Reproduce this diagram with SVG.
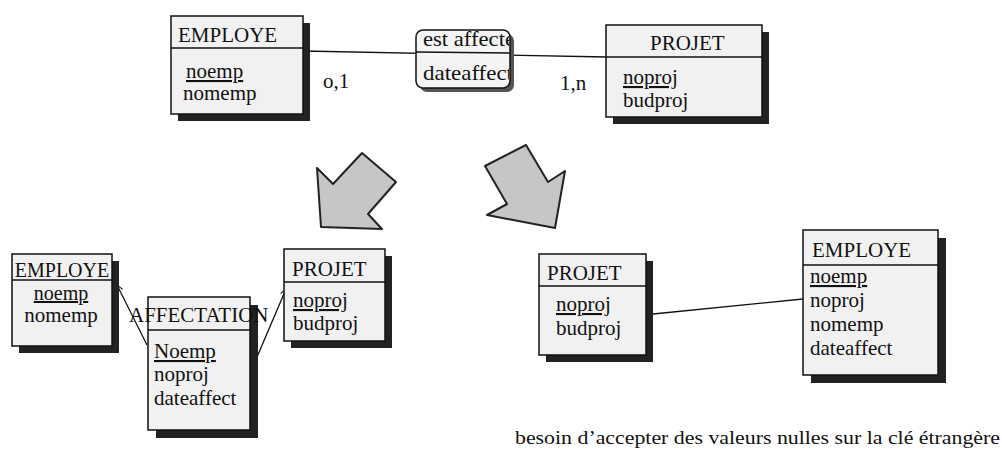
<svg xmlns="http://www.w3.org/2000/svg" width="1002" height="459" viewBox="0 0 1002 459">
<defs>
<style>
text{font-family:"Liberation Serif","Times New Roman",serif;font-size:21px;fill:#111}
.box{fill:#f1f1f1;stroke:#111;stroke-width:1.5}
.sh{fill:#222}
.div{stroke:#111;stroke-width:1.5}
.u{text-decoration:underline}
.con{stroke:#111;stroke-width:1.3;fill:none}
.arrow{fill:#c6c6c6;stroke:#222;stroke-width:2;stroke-linejoin:round}
</style>
<marker id="oa" viewBox="0 0 10 10" refX="9" refY="5" markerWidth="8" markerHeight="8" orient="auto" markerUnits="userSpaceOnUse">
<path d="M1,1 L9,5 L1,9" fill="none" stroke="#111" stroke-width="1.3"/>
</marker>
<clipPath id="relclip"><rect x="410" y="25" width="99" height="70"/></clipPath>
</defs>
<rect width="1002" height="459" fill="#fff"/>

<g id="connectors">
<line class="con" x1="303" y1="51" x2="607" y2="57"/>
<line class="con" x1="147" y1="345" x2="117" y2="285" marker-end="url(#oa)"/>
<line class="con" x1="257" y1="357" x2="286" y2="289" marker-end="url(#oa)"/>
<line class="con" x1="653" y1="314" x2="803" y2="299"/>
</g>

<g id="employe-top">
<rect class="sh" x="178" y="23" width="132" height="98"/>
<rect class="box" x="171" y="16" width="132" height="98"/>
<line class="div" x1="171" y1="48" x2="303" y2="48"/>
<text x="178" y="42">EMPLOYE</text>
<text class="u" x="186" y="78">noemp</text>
<text x="183" y="100">nomemp</text>
</g>

<g id="est-affecte">
<rect x="420" y="34" width="94" height="58" rx="7" fill="#555"/>
<rect x="416" y="30" width="94" height="58" rx="7" fill="#f4f4f4" stroke="#111" stroke-width="1.5"/>
<line class="div" x1="416" y1="52" x2="510" y2="53"/>
<g clip-path="url(#relclip)">
<text x="423" y="46" textLength="92" lengthAdjust="spacingAndGlyphs">est affecté</text>
<text x="423" y="80" textLength="90" lengthAdjust="spacingAndGlyphs">dateaffect</text>
</g>
</g>

<text id="card-1" x="323" y="88">o,1</text>
<text id="card-2" x="560" y="90">1,n</text>

<g id="projet-top">
<rect class="sh" x="613" y="32" width="156" height="92"/>
<rect class="box" x="606" y="25" width="156" height="92"/>
<line class="div" x1="606" y1="57" x2="762" y2="57"/>
<text x="650" y="50">PROJET</text>
<text class="u" x="623" y="84">noproj</text>
<text x="623" y="107">budproj</text>
</g>

<g id="arrow-left">
<polygon class="arrow" points="317,168 333,184 362,153 396,182 368,214 382,229 321,227"/>
</g>
<g id="arrow-right">
<polygon class="arrow" points="485,166 526,145 548,182 565,171 555,228 487,215 507,204"/>
</g>

<g id="employe-bl">
<rect class="sh" x="19" y="261" width="100" height="92"/>
<rect class="box" x="12" y="254" width="100" height="92"/>
<line class="div" x1="12" y1="280" x2="112" y2="280"/>
<text x="62" y="277" text-anchor="middle" style="font-size:20px">EMPLOYE</text>
<text class="u" x="61" y="300" text-anchor="middle" style="font-size:20px">noemp</text>
<text x="61" y="322" text-anchor="middle">nomemp</text>
</g>

<g id="affectation">
<rect class="sh" x="156" y="305" width="102" height="133"/>
<rect class="box" x="148" y="297" width="102" height="133"/>
<line class="div" x1="148" y1="330" x2="250" y2="330"/>
<text x="129" y="322">AFFECTATION</text>
<text class="u" x="154" y="358">Noemp</text>
<text x="154" y="381">noproj</text>
<text x="154" y="405">dateaffect</text>
</g>

<g id="projet-bl">
<rect class="sh" x="291" y="256" width="101" height="92"/>
<rect class="box" x="284" y="249" width="101" height="92"/>
<line class="div" x1="284" y1="282" x2="385" y2="282"/>
<text x="292" y="276">PROJET</text>
<text class="u" x="293" y="307">noproj</text>
<text x="293" y="330">budproj</text>
</g>

<g id="projet-br">
<rect class="sh" x="546" y="261" width="107" height="101"/>
<rect class="box" x="539" y="254" width="107" height="101"/>
<line class="div" x1="539" y1="286" x2="646" y2="286"/>
<text x="547" y="280">PROJET</text>
<text class="u" x="556" y="311">noproj</text>
<text x="556" y="335">budproj</text>
</g>

<g id="employe-br">
<rect class="sh" x="811" y="238" width="135" height="145"/>
<rect class="box" x="803" y="230" width="135" height="145"/>
<line class="div" x1="803" y1="265" x2="938" y2="265"/>
<text x="812" y="257">EMPLOYE</text>
<text class="u" x="810" y="283">noemp</text>
<text x="810" y="307">noproj</text>
<text x="810" y="331">nomemp</text>
<text x="810" y="355">dateaffect</text>
</g>

<text id="caption" x="515" y="444" textLength="485" lengthAdjust="spacingAndGlyphs" style="font-size:19px">besoin d’accepter des valeurs nulles sur la clé étrangère</text>
</svg>
